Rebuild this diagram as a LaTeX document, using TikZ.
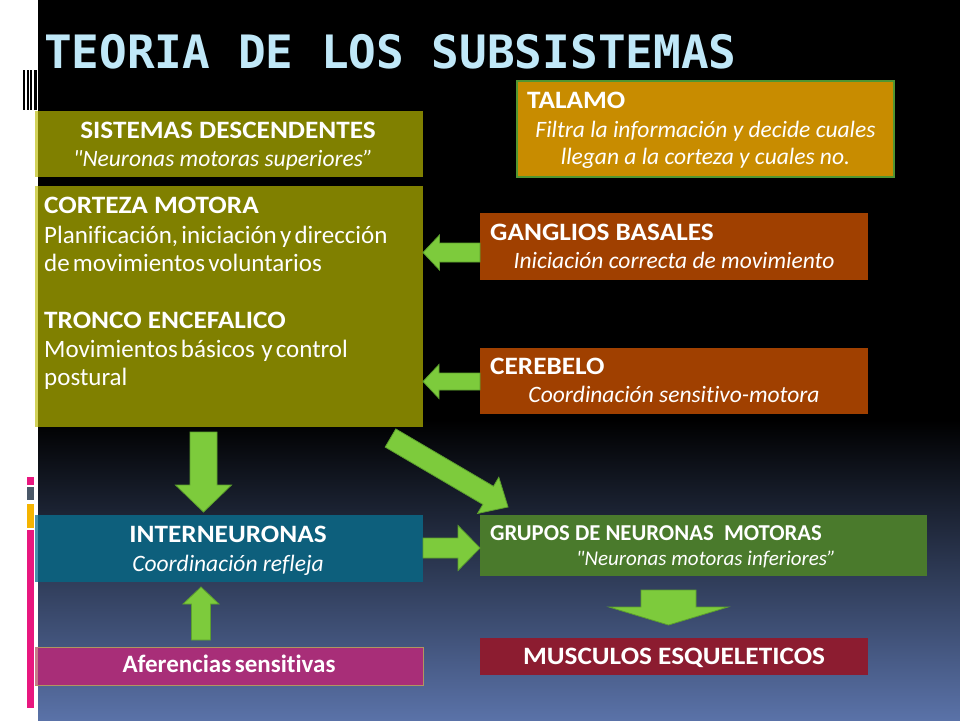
\documentclass[tikz,border=0pt]{standalone}
\usepackage{fontspec}
\setmainfont{Carlito}[Ligatures={TeX,NoCommon}]
\newfontfamily\capsfont{Carlito}[Ligatures={TeX,NoCommon}, FakeStretch=1.09]
\newfontfamily\itfont{Carlito}[Ligatures=NoCommon]
\newfontfamily\titlefont{DejaVu Sans Mono}
\usetikzlibrary{calc}
\newcommand\rmtight{\fontsize{25}{29}\selectfont\spaceskip=3.2pt plus 1pt minus 1pt\relax}
\newcommand\bftight{\bfseries\fontsize{25}{29}\selectfont\spaceskip=3.6pt plus 1pt minus 1pt\relax}
\definecolor{titleblue}{RGB}{192,232,248}
\definecolor{olivebox}{RGB}{128,128,0}
\definecolor{olivestrip}{RGB}{210,210,90}
\definecolor{talamobox}{RGB}{200,140,0}
\definecolor{talamoedge}{RGB}{80,150,50}
\definecolor{rustbox}{RGB}{160,64,0}
\definecolor{tealbox}{RGB}{13,95,124}
\definecolor{tealstrip}{RGB}{70,145,172}
\definecolor{greenbox}{RGB}{74,122,44}
\definecolor{crimsonbox}{RGB}{140,28,48}
\definecolor{pinkbox}{RGB}{168,46,120}
\definecolor{pinkedge}{RGB}{176,150,96}
\definecolor{pinkstrip}{RGB}{200,122,138}
\definecolor{arrowgreen}{RGB}{125,203,60}
\definecolor{arrowedge}{RGB}{92,160,45}
\definecolor{barpink}{RGB}{232,23,127}
\definecolor{barslate}{RGB}{74,88,104}
\definecolor{baramber}{RGB}{245,180,0}
\definecolor{bgmid}{RGB}{38,48,76}
\definecolor{bgbottom}{RGB}{90,114,168}
\newcommand\blockarrow[5]{%
  \coordinate (ba-base) at ($(#2)!#5!(#1)$);
  \filldraw[blockarrowstyle] ($(#1)!#3!90:(#2)$) -- ($(ba-base)!#3!90:(#2)$)
    -- ($(ba-base)!#4!90:(#2)$) -- (#2) -- ($(ba-base)!#4!-90:(#2)$)
    -- ($(ba-base)!#3!-90:(#2)$) -- ($(#1)!#3!-90:(#2)$) -- cycle;}
\tikzset{
  box/.style={anchor=north west, inner sep=0pt, outer sep=0pt},
  wt/.style={text=white, inner sep=0pt, anchor=base},
  wtl/.style={text=white, inner sep=0pt, anchor=base west},
  bf/.style={font=\capsfont\bfseries\fontsize{25}{29}\selectfont},
  bfl/.style={font=\bftight},
  bfs/.style={font=\itfont\bfseries\fontsize{22.7}{26}\selectfont},
  rm/.style={font=\rmtight},
  itx/.style={font=\itfont\itshape\fontsize{23.5}{27}\selectfont},
  its/.style={font=\itfont\itshape\fontsize{21}{25}\selectfont},
  blockarrowstyle/.style={fill=arrowgreen, draw=arrowedge, line width=0.8pt, line join=miter}
}
\begin{document}
\begin{tikzpicture}[x=1pt,y=-1pt]
\useasboundingbox (0,0) rectangle (960,720);
% background
\fill[white] (0,0) rectangle (38,720);
\fill[black] (38,0) rectangle (960,421);
\shade[top color=black, middle color=bgmid, bottom color=bgbottom] (38,420) rectangle (960,720);
% left decorations
\foreach \a/\b in {22.5/24.5, 26.5/28.5, 30/32, 33.5/36.5} \fill[black] (\a,70) rectangle (\b,110);
\fill[barpink] (27,477) rectangle (34,485);
\fill[barslate] (27,487) rectangle (34,500);
\fill[baramber] (27,504) rectangle (34,528);
\fill[barpink] (27,530) rectangle (34,708);
% title
\node[anchor=base west, inner sep=0pt, text=titleblue, font=\titlefont\bfseries\fontsize{46}{46}\selectfont] (title) at (44,68) {TEORIA DE LOS SUBSISTEMAS};
% boxes
\node[box, fill=olivebox, minimum width=388pt, minimum height=66pt] (sd) at (35,111) {};
\node[box, fill=olivebox, minimum width=388pt, minimum height=241pt] (cm) at (35,186) {};
\node[box, fill=talamobox, draw=talamoedge, line width=1.5pt, minimum width=377pt, minimum height=96pt] (ta) at (517,81) {};
\node[box, fill=rustbox, minimum width=388pt, minimum height=67pt] (gb) at (480,213) {};
\node[box, fill=rustbox, minimum width=388pt, minimum height=66pt] (ce) at (480,348) {};
\node[box, fill=tealbox, minimum width=388pt, minimum height=67pt] (in) at (35,515) {};
\node[box, fill=greenbox, minimum width=447pt, minimum height=61pt] (gn) at (480,515) {};
\node[box, fill=crimsonbox, minimum width=388pt, minimum height=37pt] (mu) at (480,638) {};
\node[box, fill=pinkbox, draw=pinkedge, line width=1pt, minimum width=388pt, minimum height=38pt] (af) at (35,647) {};
\fill[olivestrip] (35,111) rectangle (38,177);
\fill[olivestrip] (35,186) rectangle (38,427);
\fill[tealstrip] (35,515) rectangle (38,582);
\fill[pinkstrip] (35,647) rectangle (38,685);
% texts
\node[wt,bf] (sdt1) at (228,138) {SISTEMAS DESCENDENTES};
\node[wt,itx] (sdt2) at (223,166) {"Neuronas motoras superiores”};
\node[wtl,bf] (cmt1) at (44,213) {CORTEZA MOTORA};
\node[wtl,rm] (cmt2) at (44,243) {Planificación, iniciación y dirección};
\node[wtl,rm] (cmt3) at (44,271) {de movimientos voluntarios};
\node[wtl,bf] (cmt4) at (44,328) {TRONCO ENCEFALICO};
\node[wtl,rm] (cmt5) at (44,357) {Movimientos básicos\ \ y control};
\node[wtl,rm] (cmt6) at (44,385) {postural};
\node[wtl,bf] (tat1) at (527,108) {TALAMO};
\node[wt,itx] (tat2) at (705.5,137) {Filtra la información y decide cuales};
\node[wt,itx] (tat3) at (705.5,164) {llegan a la corteza y cuales no.};
\node[wtl,bf] (gbt1) at (490,240) {GANGLIOS BASALES};
\node[wt,itx] (gbt2) at (674,268) {Iniciación correcta de movimiento};
\node[wtl,bf] (cet1) at (490,374) {CEREBELO};
\node[wt,itx] (cet2) at (674,402) {Coordinación sensitivo-motora};
\node[wt,bf] (int1) at (228,542) {INTERNEURONAS};
\node[wt,itx] (int2) at (228,571) {Coordinación refleja};
\node[wtl,bfs] (gnt1) at (490,540) {GRUPOS DE NEURONAS\ \ MOTORAS};
\node[wt,its] (gnt2) at (706,565) {"Neuronas motoras inferiores”};
\node[wt,bf] (mut1) at (674,664) {MUSCULOS ESQUELETICOS};
\node[wt,bfl] (aft1) at (229,672) {Aferencias sensitivas};
% arrow end points
\coordinate (a1s) at (203.5,432); \coordinate (a1e) at (203.5,512);
\coordinate (a2s) at (201,640);   \coordinate (a2e) at (201,587);
\coordinate (a3s) at (423,548);   \coordinate (a3e) at (480,548);
\coordinate (a4s) at (480,252.5); \coordinate (a4e) at (423,252.5);
\coordinate (a5s) at (480,381.5); \coordinate (a5e) at (423,381.5);
\coordinate (a6s) at (390.5,438); \coordinate (a6e) at (508,507);
\coordinate (a7s) at (668.5,590); \coordinate (a7e) at (668.5,625);
\blockarrow{a1s}{a1e}{13.5pt}{28pt}{27pt}
\blockarrow{a2s}{a2e}{9.5pt}{18pt}{17pt}
\blockarrow{a3s}{a3e}{10pt}{22.5pt}{22pt}
\blockarrow{a4s}{a4e}{9.5pt}{17.5pt}{16.5pt}
\blockarrow{a5s}{a5e}{8.5pt}{17pt}{16pt}
\blockarrow{a6s}{a6e}{10.5pt}{21pt}{23pt}
\blockarrow{a7s}{a7e}{27.5pt}{59.5pt}{18pt}
\end{tikzpicture}
\end{document}
